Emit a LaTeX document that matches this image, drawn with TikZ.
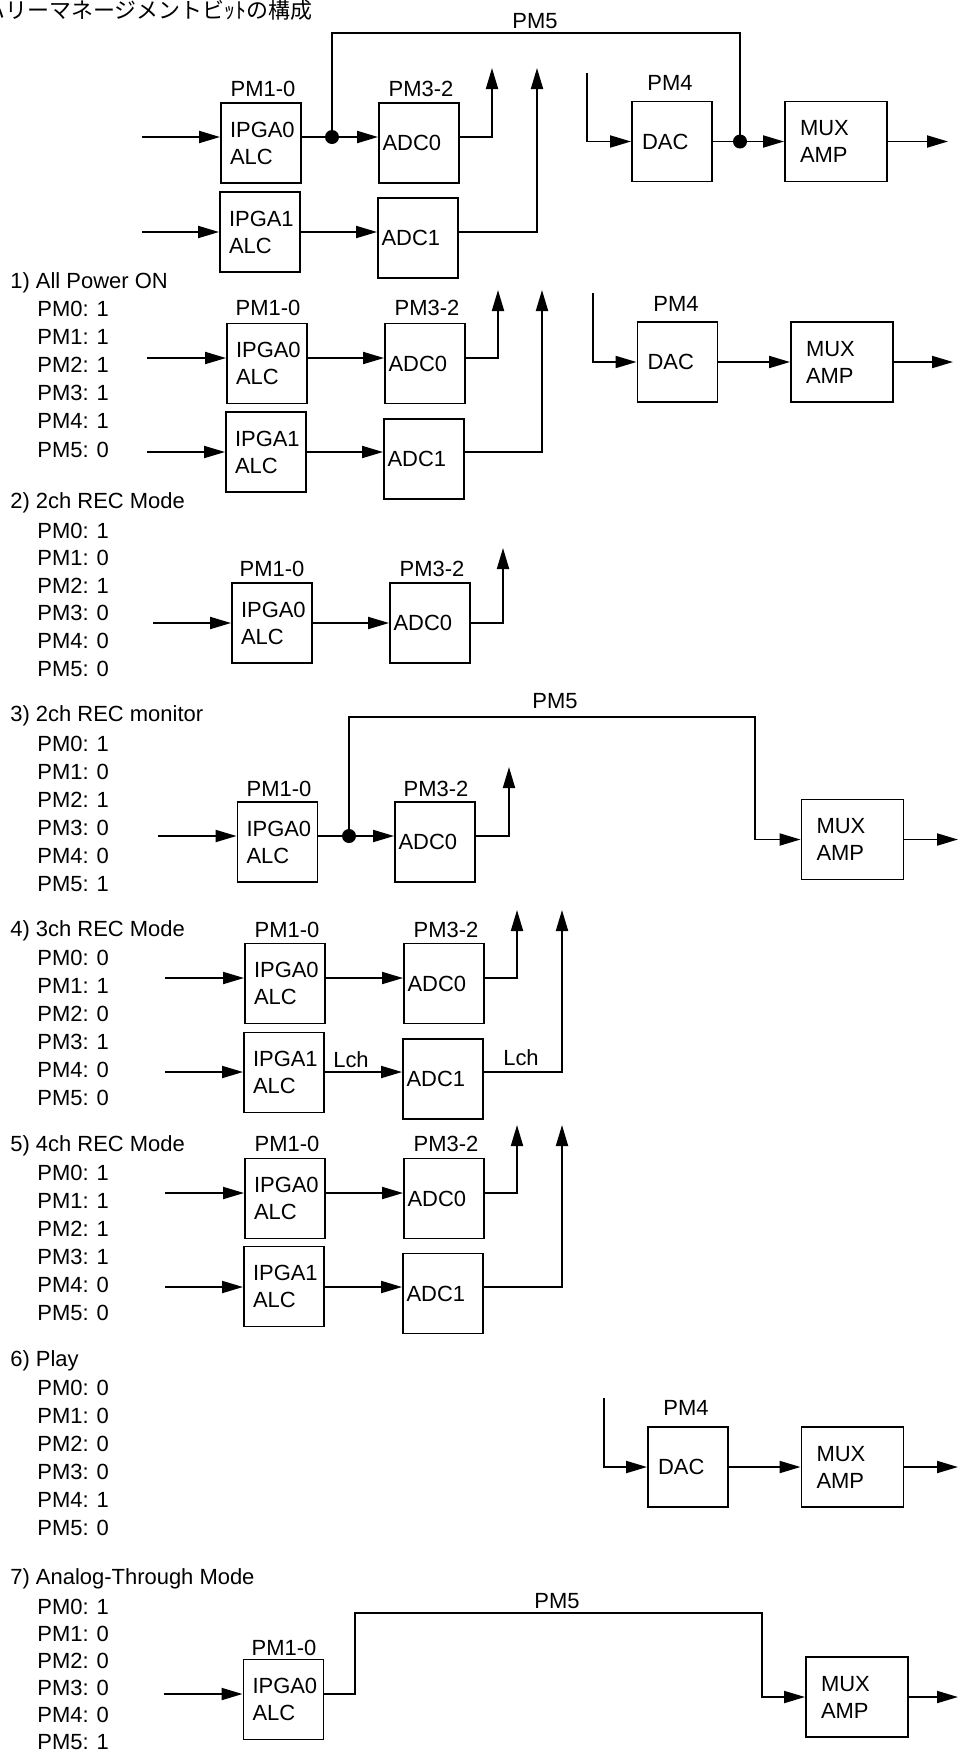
\documentclass[tikz,border=0pt]{standalone}
\usepackage{fontspec}
\setmainfont{Liberation Sans}
\newfontfamily\jpfont{Noto Sans CJK JP}
\usetikzlibrary{arrows.meta, positioning, calc}

\newcommand{\pmfont}{\fontsize{12.5pt}{15.4pt}\selectfont}

\tikzset{
  blk/.style={
    rectangle, draw, line width=1.1pt,
    minimum height=1.6cm, inner ysep=0pt,
    align=left, font=\pmfont
  },
  ipga/.style={blk, text width=1.24cm, inner xsep=0.18cm},
  adc/.style={blk, text width=1.46cm, inner xsep=0.07cm},
  dac/.style={blk, text width=1.2cm, inner xsep=0.2cm},
  mux/.style={blk, text width=1.44cm, inner xsep=0.3cm},
  arr/.style={-{Triangle[length=0.42cm, width=0.24cm]}, line width=1.1pt},
  wire/.style={line width=1.1pt},
  jdot/.style={circle, fill, inner sep=0pt, minimum size=0.28cm},
  lbl/.style={font=\pmfont, inner sep=0pt, anchor=base},
  head/.style={font=\pmfont, inner sep=0pt, anchor=base west}
}

\begin{document}
\begin{tikzpicture}[x=0.02cm, y=-0.02cm]
  \useasboundingbox (0,0) rectangle (961,1755);
  \clip (0,0) rectangle (961,1755);

  \node[font=\jpfont\fontsize{12.5pt}{15pt}\selectfont, anchor=base west, inner sep=0pt]
    (title) at (-17,18) {ハリーマネージメントビｯﾄの構成};

  % --- overall block diagram
  \node[ipga] (s0g0) at (261,143) {IPGA0\\ALC};
  \node[ipga] (s0g1) at (260,232) {IPGA1\\ALC};
  \node[adc] (s0a0) at (419,143) {ADC0};
  \node[adc] (s0a1) at (418,238) {ADC1};
  \node[dac] (s0dac) at (672,141.5) {DAC};
  \node[mux] (s0mux) at (836,141.5) {MUX\\AMP};
  \node[lbl] (s0l0) at (263,96) {PM1-0};
  \node[lbl] (s0l1) at (421,96) {PM3-2};
  \node[lbl] (s0l2) at (670,90) {PM4};
  \node[lbl] (s0l3) at (535,28) {PM5};

  \coordinate (s0i0) at (142,137);
  \coordinate (s0i1) at (142,232);
  \coordinate (s0t0) at (492,68);
  \coordinate (s0t1) at (537,68);
  \coordinate (s0d) at (587,73);
  \coordinate (s0top) at (332,33);
  \coordinate (s0o) at (948,141.5);
  \node[jdot] (s0j0) at (332,137) {};
  \node[jdot] (s0j1) at (740,141.5) {};

  \draw[arr] (s0i0) -- (s0i0 -| s0g0.west);
  \draw[arr] (s0i1) -- (s0i1 -| s0g1.west);
  \draw[wire] (s0i0 -| s0g0.east) -- (s0j0.center);
  \draw[arr] (s0j0.center) -- (s0i0 -| s0a0.west);
  \draw[arr] (s0i1 -| s0g1.east) -- (s0i1 -| s0a1.west);
  \draw[arr] (s0i0 -| s0a0.east) -| (s0t0);
  \draw[arr] (s0i1 -| s0a1.east) -| (s0t1);
  \draw[arr] (s0d) |- (s0dac.west);
  \draw[wire] (s0dac.east) -- (s0j1.center);
  \draw[arr] (s0j1.center) -- (s0mux.west);
  \draw[arr] (s0mux.east) -- (s0o);
  \draw[wire] (s0j0.center) -- (s0top) -| (s0j1.center);

  % --- 1) all power on
  \node[head] (s1h) at (10,288) {1) All Power ON};
  \foreach \v [count=\i from 0] in {1,1,1,1,1,0}
    \node[head] (s1pm\i) at (37,{316+28.2*\i}) {PM\i: \v};
  \node[ipga] (s1g0) at (267,363.5) {IPGA0\\ALC};
  \node[ipga] (s1g1) at (266,452) {IPGA1\\ALC};
  \node[adc] (s1a0) at (425,363.5) {ADC0};
  \node[adc] (s1a1) at (424,459) {ADC1};
  \node[dac] (s1dac) at (677.5,362) {DAC};
  \node[mux] (s1mux) at (842,362) {MUX\\AMP};
  \node[lbl] (s1l0) at (268,315) {PM1-0};
  \node[lbl] (s1l1) at (427,315) {PM3-2};
  \node[lbl] (s1l2) at (676,311) {PM4};

  \coordinate (s1i0) at (147,358);
  \coordinate (s1i1) at (147,452);
  \coordinate (s1t0) at (498,290);
  \coordinate (s1t1) at (542,290);
  \coordinate (s1d) at (593,293);
  \coordinate (s1o) at (953,362);

  \draw[arr] (s1i0) -- (s1i0 -| s1g0.west);
  \draw[arr] (s1i1) -- (s1i1 -| s1g1.west);
  \draw[arr] (s1i0 -| s1g0.east) -- (s1i0 -| s1a0.west);
  \draw[arr] (s1i1 -| s1g1.east) -- (s1i1 -| s1a1.west);
  \draw[arr] (s1i0 -| s1a0.east) -| (s1t0);
  \draw[arr] (s1i1 -| s1a1.east) -| (s1t1);
  \draw[arr] (s1d) |- (s1dac.west);
  \draw[arr] (s1dac.east) -- (s1mux.west);
  \draw[arr] (s1mux.east) -- (s1o);

  % --- 2) 2ch rec mode
  \node[head] (s2h) at (10,508) {2) 2ch REC Mode};
  \foreach \v [count=\i from 0] in {1,0,1,0,0,0}
    \node[head] (s2pm\i) at (37,{538+27.6*\i}) {PM\i: \v};
  \node[ipga] (s2g0) at (272,623) {IPGA0\\ALC};
  \node[adc] (s2a0) at (430,623) {ADC0};
  \node[lbl] (s2l0) at (272,576) {PM1-0};
  \node[lbl] (s2l1) at (432,576) {PM3-2};

  \coordinate (s2i0) at (153,623);
  \coordinate (s2t0) at (503,548);

  \draw[arr] (s2i0) -- (s2i0 -| s2g0.west);
  \draw[arr] (s2i0 -| s2g0.east) -- (s2i0 -| s2a0.west);
  \draw[arr] (s2i0 -| s2a0.east) -| (s2t0);

  % --- 3) 2ch rec monitor
  \node[head] (s3h) at (10,721) {3) 2ch REC monitor};
  \foreach \v [count=\i from 0] in {1,0,1,0,0,1}
    \node[head] (s3pm\i) at (37,{751+28*\i}) {PM\i: \v};
  \node[ipga] (s3g0) at (277.5,842) {IPGA0\\ALC};
  \node[adc] (s3a0) at (435,842) {ADC0};
  \node[mux] (s3mux) at (852.5,839.5) {MUX\\AMP};
  \node[lbl] (s3l0) at (279,796) {PM1-0};
  \node[lbl] (s3l1) at (436,796) {PM3-2};
  \node[lbl] (s3l2) at (555,708) {PM5};

  \coordinate (s3i0) at (158,836);
  \coordinate (s3t0) at (509,767);
  \coordinate (s3top) at (349,717);
  \coordinate (s3dn) at (755,717);
  \coordinate (s3o) at (958,839.5);
  \node[jdot] (s3j0) at (349,836) {};

  \draw[arr] (s3i0) -- (s3i0 -| s3g0.west);
  \draw[wire] (s3i0 -| s3g0.east) -- (s3j0.center);
  \draw[arr] (s3j0.center) -- (s3i0 -| s3a0.west);
  \draw[arr] (s3i0 -| s3a0.east) -| (s3t0);
  \draw[arr] (s3j0.center) -- (s3top) -- (s3dn) |- (s3mux.west);
  \draw[arr] (s3mux.east) -- (s3o);

  % --- 4) 3ch rec mode
  \node[head] (s4h) at (10,936) {4) 3ch REC Mode};
  \foreach \v [count=\i from 0] in {0,1,0,1,0,0}
    \node[head] (s4pm\i) at (37,{965+28*\i}) {PM\i: \v};
  \node[ipga] (s4g0) at (285,983.5) {IPGA0\\ALC};
  \node[ipga] (s4g1) at (284,1072.5) {IPGA1\\ALC};
  \node[adc] (s4a0) at (444,983.5) {ADC0};
  \node[adc] (s4a1) at (443,1079) {ADC1};
  \node[lbl] (s4l0) at (287,937) {PM1-0};
  \node[lbl] (s4l1) at (446,937) {PM3-2};
  \node[lbl] (s4l2) at (351,1067) {Lch};
  \node[lbl] (s4l3) at (521,1065) {Lch};

  \coordinate (s4i0) at (165,978);
  \coordinate (s4i1) at (165,1072);
  \coordinate (s4t0) at (517,910);
  \coordinate (s4t1) at (562,910);

  \draw[arr] (s4i0) -- (s4i0 -| s4g0.west);
  \draw[arr] (s4i1) -- (s4i1 -| s4g1.west);
  \draw[arr] (s4i0 -| s4g0.east) -- (s4i0 -| s4a0.west);
  \draw[arr] (s4i1 -| s4g1.east) -- (s4i1 -| s4a1.west);
  \draw[arr] (s4i0 -| s4a0.east) -| (s4t0);
  \draw[arr] (s4i1 -| s4a1.east) -| (s4t1);

  % --- 5) 4ch rec mode
  \node[head] (s5h) at (10,1151) {5) 4ch REC Mode};
  \foreach \v [count=\i from 0] in {1,1,1,1,0,0}
    \node[head] (s5pm\i) at (37,{1180+28*\i}) {PM\i: \v};
  \node[ipga] (s5g0) at (285,1198.5) {IPGA0\\ALC};
  \node[ipga] (s5g1) at (284,1286.5) {IPGA1\\ALC};
  \node[adc] (s5a0) at (444,1198.5) {ADC0};
  \node[adc] (s5a1) at (443,1293.5) {ADC1};
  \node[lbl] (s5l0) at (287,1151) {PM1-0};
  \node[lbl] (s5l1) at (446,1151) {PM3-2};

  \coordinate (s5i0) at (165,1193);
  \coordinate (s5i1) at (165,1287);
  \coordinate (s5t0) at (517,1125);
  \coordinate (s5t1) at (562,1125);

  \draw[arr] (s5i0) -- (s5i0 -| s5g0.west);
  \draw[arr] (s5i1) -- (s5i1 -| s5g1.west);
  \draw[arr] (s5i0 -| s5g0.east) -- (s5i0 -| s5a0.west);
  \draw[arr] (s5i1 -| s5g1.east) -- (s5i1 -| s5a1.west);
  \draw[arr] (s5i0 -| s5a0.east) -| (s5t0);
  \draw[arr] (s5i1 -| s5a1.east) -| (s5t1);

  % --- 6) play
  \node[head] (s6h) at (10,1366) {6) Play};
  \foreach \v [count=\i from 0] in {0,0,0,0,1,0}
    \node[head] (s6pm\i) at (37,{1395+28*\i}) {PM\i: \v};
  \node[dac] (s6dac) at (688,1467) {DAC};
  \node[mux] (s6mux) at (852.5,1467) {MUX\\AMP};
  \node[lbl] (s6l0) at (686,1415) {PM4};

  \coordinate (s6d) at (604,1398);
  \coordinate (s6o) at (958,1467);

  \draw[arr] (s6d) |- (s6dac.west);
  \draw[arr] (s6dac.east) -- (s6mux.west);
  \draw[arr] (s6mux.east) -- (s6o);

  % --- 7) analog-through mode
  \node[head] (s7h) at (10,1584) {7) Analog-Through Mode};
  \foreach \v [count=\i from 0] in {1,0,0,0,0,1}
    \node[head] (s7pm\i) at (37,{1614+27*\i}) {PM\i: \v};
  \node[ipga] (s7g0) at (283.5,1699.5) {IPGA0\\ALC};
  \node[mux] (s7mux) at (857,1697) {MUX\\AMP};
  \node[lbl] (s7l0) at (284,1655) {PM1-0};
  \node[lbl] (s7l1) at (557,1608) {PM5};

  \coordinate (s7i0) at (164,1694);
  \coordinate (s7c0) at (355,1613);
  \coordinate (s7c1) at (762,1613);
  \coordinate (s7o) at (958,1697);

  \draw[arr] (s7i0) -- (s7i0 -| s7g0.west);
  \draw[arr] (s7i0 -| s7g0.east) -| (s7c0) -- (s7c1) |- (s7mux.west);
  \draw[arr] (s7mux.east) -- (s7o);
\end{tikzpicture}
\end{document}
